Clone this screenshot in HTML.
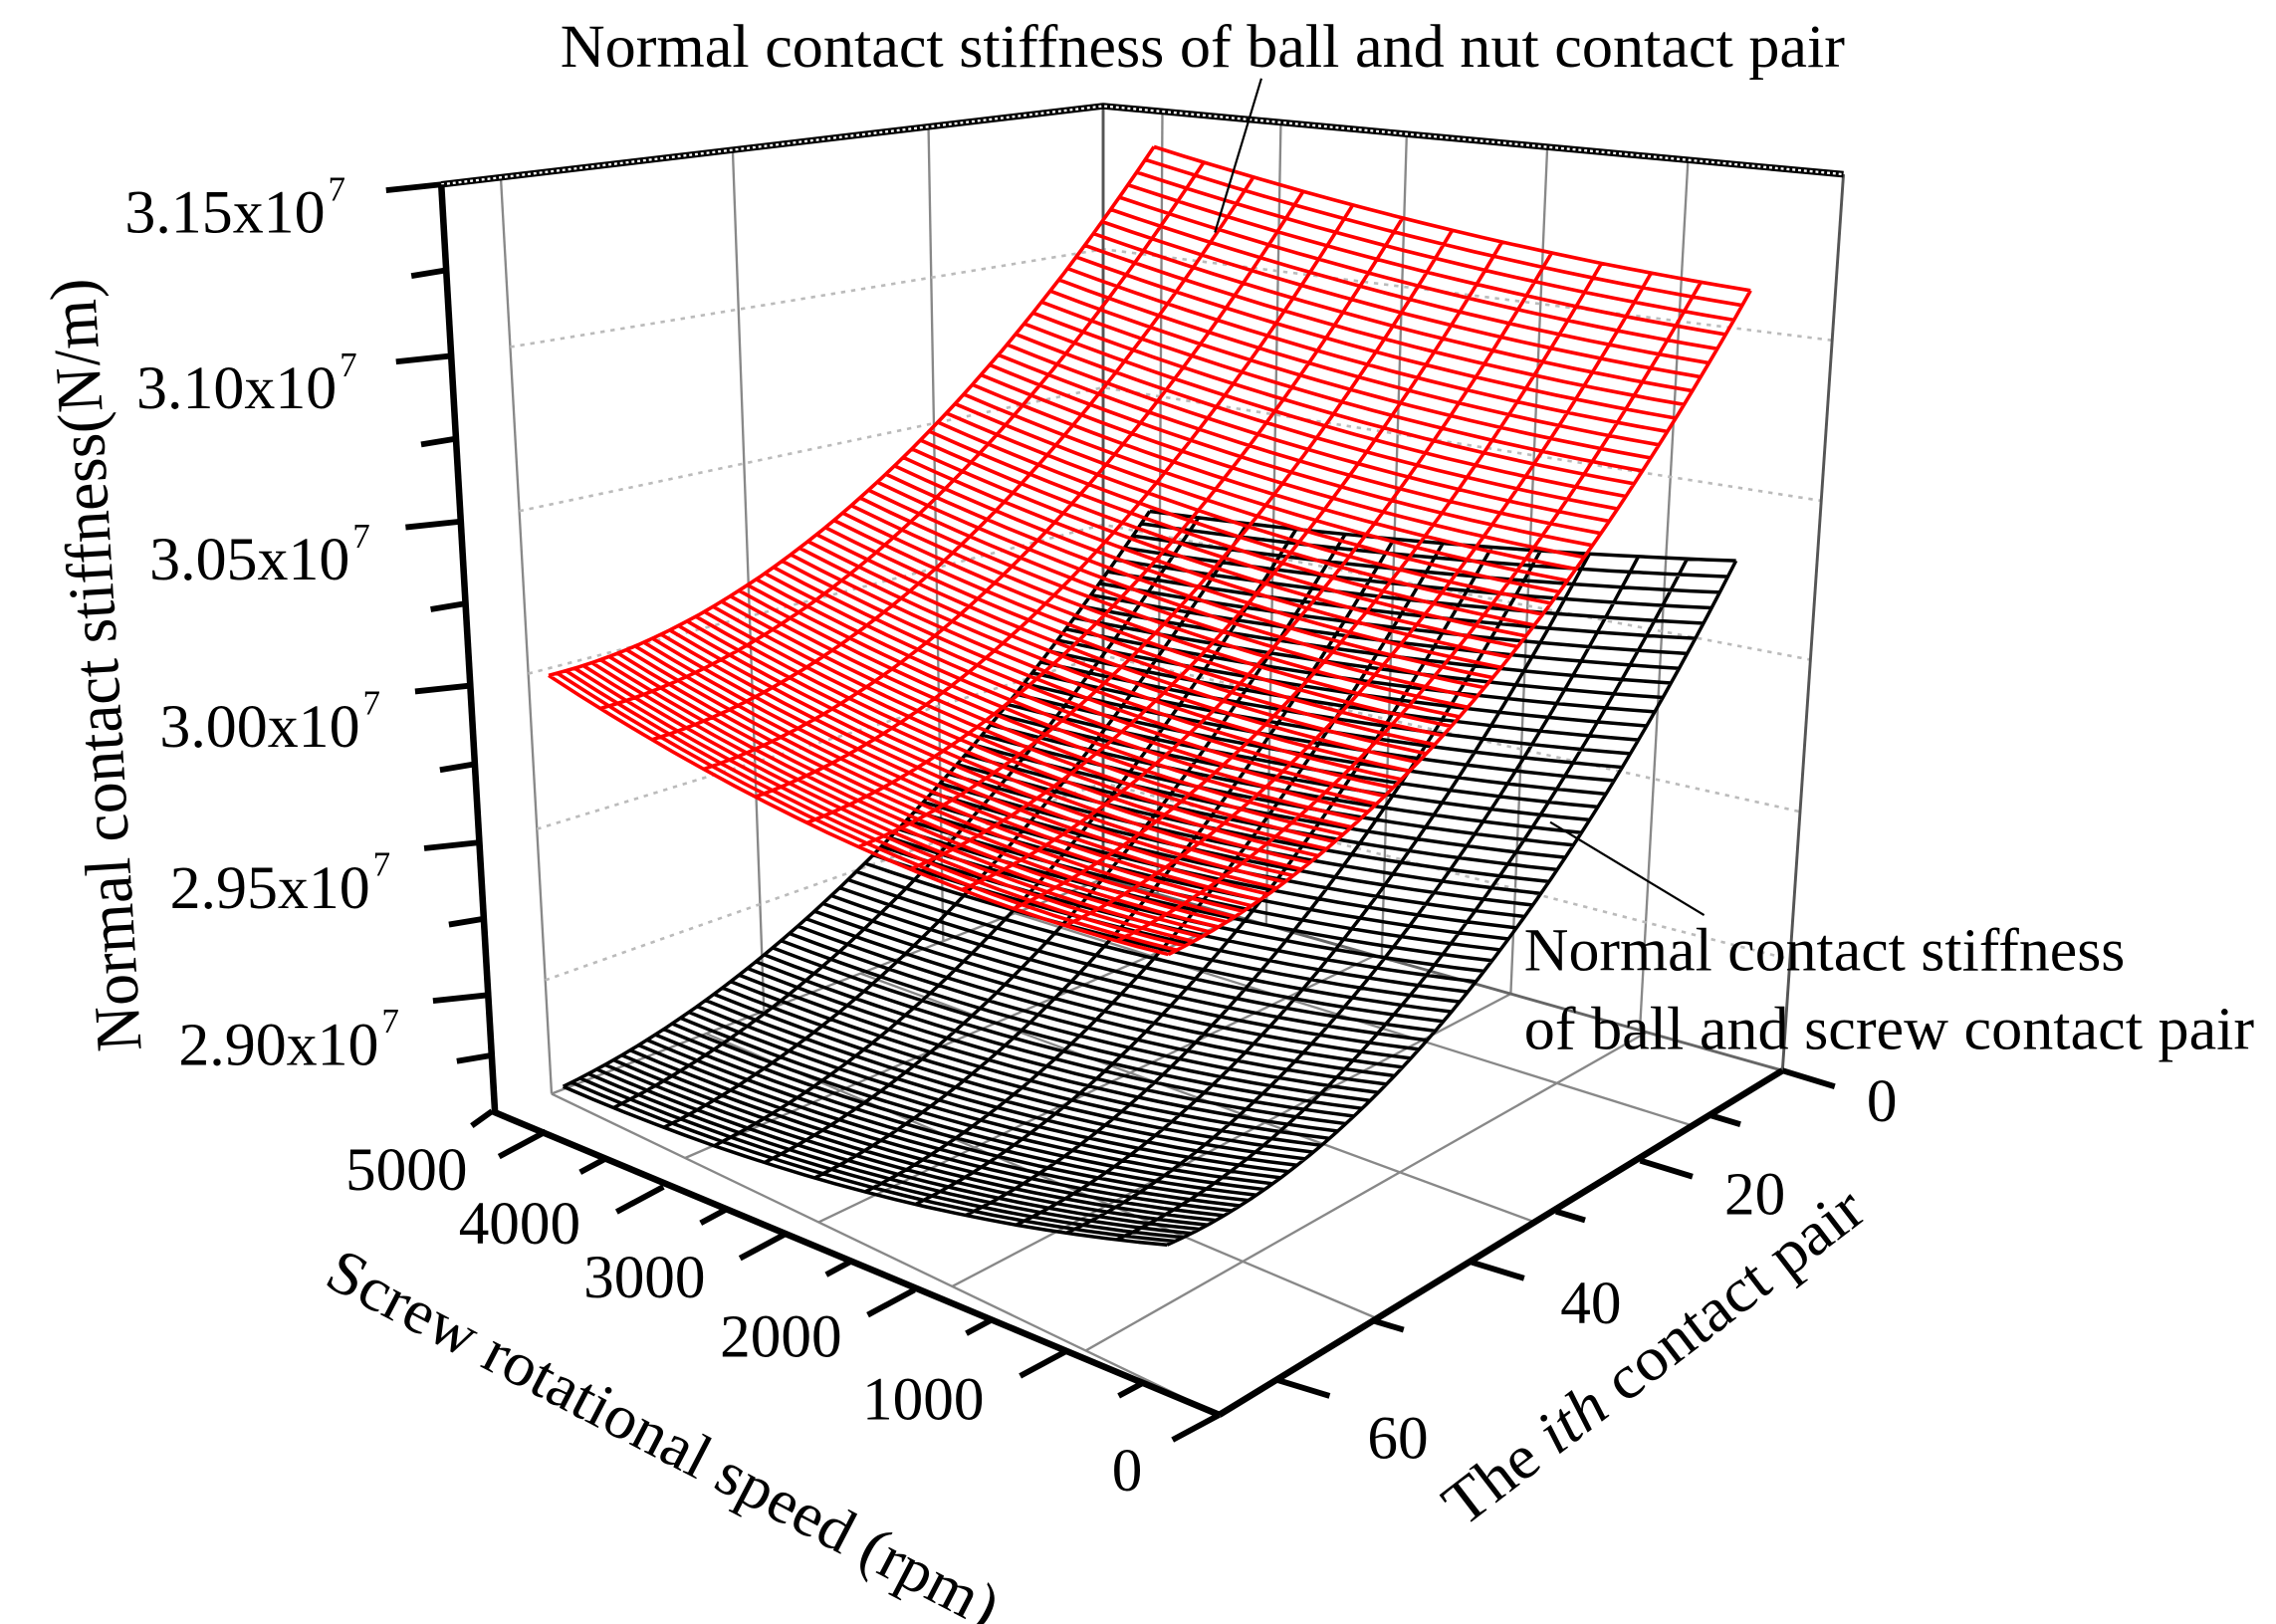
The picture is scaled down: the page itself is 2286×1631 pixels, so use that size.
<!DOCTYPE html>
<html><head><meta charset="utf-8">
<style>
html,body{margin:0;padding:0;background:#fff;}
svg{display:block;}
text{font-family:"Liberation Serif",serif;fill:#000;}
</style></head>
<body>
<svg id="s" width="2286" height="1631" viewBox="0 0 1568 1118" preserveAspectRatio="none" xmlns="http://www.w3.org/2000/svg">
<g id="walls"></g>
<g id="surf"></g>
<g id="axes"></g>
<text x="386" y="46" font-size="42" textLength="885" lengthAdjust="spacingAndGlyphs">Normal contact stiffness of ball and nut contact pair</text>
<text x="1050" y="668" font-size="42" textLength="414" lengthAdjust="spacingAndGlyphs">Normal contact stiffness</text>
<text x="1050" y="722" font-size="42" textLength="503" lengthAdjust="spacingAndGlyphs">of ball and screw contact pair</text>
<line x1="869" y1="54" x2="837" y2="160" stroke="#000" stroke-width="1.5"/>
<line x1="1068" y1="566" x2="1174" y2="630" stroke="#000" stroke-width="1.5"/>
<g font-size="42">
<text x="86" y="160" textLength="138" lengthAdjust="spacingAndGlyphs">3.15x10</text><text x="226" y="138" font-size="24">7</text>
<text x="94" y="281" textLength="138" lengthAdjust="spacingAndGlyphs">3.10x10</text><text x="234" y="259" font-size="24">7</text>
<text x="103" y="399" textLength="138" lengthAdjust="spacingAndGlyphs">3.05x10</text><text x="243" y="377" font-size="24">7</text>
<text x="110" y="514" textLength="138" lengthAdjust="spacingAndGlyphs">3.00x10</text><text x="250" y="492" font-size="24">7</text>
<text x="117" y="625" textLength="138" lengthAdjust="spacingAndGlyphs">2.95x10</text><text x="257" y="603" font-size="24">7</text>
<text x="123" y="733" textLength="138" lengthAdjust="spacingAndGlyphs">2.90x10</text><text x="263" y="711" font-size="24">7</text>
</g>
<g font-size="42" text-anchor="end">
<text x="322" y="819">5000</text>
<text x="400" y="856">4000</text>
<text x="486" y="893">3000</text>
<text x="580" y="934">2000</text>
<text x="678" y="977">1000</text>
<text x="787" y="1026">0</text>
</g>
<g font-size="42">
<text x="1286" y="772">0</text>
<text x="1188" y="836">20</text>
<text x="1075" y="911">40</text>
<text x="942" y="1004">60</text>
</g>
<text font-size="45" transform="translate(81,457) rotate(-93.5)" text-anchor="middle" textLength="533" lengthAdjust="spacingAndGlyphs">Normal contact stiffness(N/m)</text>
<text font-size="43" transform="translate(222,884) rotate(27.5)" textLength="515" lengthAdjust="spacingAndGlyphs">Screw rotational speed (rpm)</text>
<text font-size="43" transform="translate(1008,1052) rotate(-37.5)" textLength="352" lengthAdjust="spacingAndGlyphs">The <tspan font-style="italic">ith</tspan> contact pair</text>
</svg>
<script>
(function(){
var NS="http://www.w3.org/2000/svg";
function el(p,t,a){var e=document.createElementNS(NS,t);for(var k in a)e.setAttribute(k,a[k]);p.appendChild(e);return e;}
var W=document.getElementById('walls'),S=document.getElementById('surf'),AX=document.getElementById('axes');
function L(a,b,t){return [a[0]+(b[0]-a[0])*t,a[1]+(b[1]-a[1])*t];}
var LT=[345,122],LK=[760,73],LB=[380,753],KB=[760,605];
var RT=[1270,120],RB=[1228,737];
var zt=[127,245,359,472,580,685];
[0,0.385,0.71].forEach(function(t){var a=L(LT,LK,t),b=L(LB,KB,t);el(W,'line',{x1:a[0],y1:a[1],x2:b[0],y2:b[1],stroke:'#888','stroke-width':1.6});});
[0.08,0.24,0.41,0.60,0.79].forEach(function(t){var a=L(LK,RT,t),b=L(KB,RB,t);el(W,'line',{x1:a[0],y1:a[1],x2:b[0],y2:b[1],stroke:'#888','stroke-width':1.6});});
var axTop=127,axBot=764;
zt.slice(1).forEach(function(y){
  var f=(y-axTop)/(axBot-axTop);
  var a=L(LT,LB,f),k=L(LK,KB,f),r=L(RT,RB,f);
  el(W,'polyline',{points:a.join(',')+' '+k.join(',')+' '+r.join(','),fill:'none',stroke:'#bbb','stroke-width':1.8,'stroke-dasharray':'3,4'});
});
el(W,'line',{x1:760,y1:73,x2:760,y2:605,stroke:'#555','stroke-width':2});
el(W,'line',{x1:1270,y1:120,x2:1228,y2:737,stroke:'#555','stroke-width':2});
el(W,'polyline',{points:'304,127 760,73 1270,120',fill:'none',stroke:'#000','stroke-width':4.5});
el(W,'polyline',{points:'304,127 760,73 1270,120',fill:'none',stroke:'#fff','stroke-width':1.6,'stroke-dasharray':'2,2'});
var FL=[380,753],FK=[760,605],FR=[1228,737],FF=[840,974];
function F(u,v){var a=L(FL,FF,u),b=L(FK,FR,u);return L(a,b,v);}
[0.2,0.4,0.6,0.8,1].forEach(function(u){var a=F(u,0),b=F(u,1);el(W,'line',{x1:a[0],y1:a[1],x2:b[0],y2:b[1],stroke:'#888','stroke-width':1.6});});
[0,0.28,0.56,0.84].forEach(function(v){var a=F(0,v),b=F(1,v);el(W,'line',{x1:a[0],y1:a[1],x2:b[0],y2:b[1],stroke:'#888','stroke-width':1.6});});
el(W,'line',{x1:FL[0],y1:FL[1],x2:FK[0],y2:FK[1],stroke:'#888','stroke-width':1.6});
el(W,'line',{x1:FK[0],y1:FK[1],x2:FR[0],y2:FR[1],stroke:'#666','stroke-width':2});

function surf(A,B,C,D,sad,sbc,sa,sd,nu,nv,col,w){
  function P(u,v){
    var x=(1-u)*(1-v)*A[0]+u*(1-v)*D[0]+u*v*C[0]+(1-u)*v*B[0];
    var y=(1-u)*(1-v)*A[1]+u*(1-v)*D[1]+u*v*C[1]+(1-u)*v*B[1];
    var su=sad+(sbc-sad)*v, sv=sa+(sd-sa)*u;
    y+=su*4*u*(1-u)+sv*4*v*(1-v);
    return x.toFixed(1)+','+y.toFixed(1);
  }
  var d='';
  for(var j=0;j<=nv;j++){var v=j/nv;d+='M'+P(0,v);for(var i=1;i<=20;i++)d+='L'+P(i/20,v);}
  for(var i=0;i<=nu;i++){var u=i/nu;d+='M'+P(u,0);for(var j=1;j<=40;j++)d+='L'+P(u,j/40);}
  el(S,'path',{d:d,fill:'none',stroke:col,'stroke-width':w,'stroke-linejoin':'round'});
}
surf([388,748],[792,352],[1196,386],[804,857],18,5,50,75,12,70,'#000',2.4);
surf([378,465],[795,101],[1206,200],[805,657],22,8,65,65,12,70,'#ff0000',2.5);

el(AX,'line',{x1:304,y1:127,x2:341,y2:766,stroke:'#000','stroke-width':4.5});
var all=[];for(var i=0;i<zt.length;i++){all.push([zt[i],1]);if(i<zt.length-1)all.push([(zt[i]+zt[i+1])/2,0]);}
all.push([(685+764)/2+2,0]);
all.forEach(function(t){var y=t[0];var x=304+(y-127)/(766-127)*37;var len=t[1]?38:24;
  el(AX,'line',{x1:x,y1:y,x2:x-len,y2:y+4,stroke:'#000','stroke-width':4});});
el(AX,'line',{x1:339,y1:765,x2:840,y2:974,stroke:'#000','stroke-width':4.5});
var sp=[[376,779],[457,817],[542,849],[630,888],[735,930],[840,974]];
var dx=-28,dy=15;
sp.forEach(function(p,i){el(AX,'line',{x1:p[0],y1:p[1],x2:p[0]+dx*1.15,y2:p[1]+dy*1.15,stroke:'#000','stroke-width':4});
 if(i<sp.length-1){var m=[(p[0]+sp[i+1][0])/2,(p[1]+sp[i+1][1])/2];el(AX,'line',{x1:m[0],y1:m[1],x2:m[0]+dx*0.6,y2:m[1]+dy*0.6,stroke:'#000','stroke-width':4});}});
el(AX,'line',{x1:339,y1:765,x2:325,y2:775,stroke:'#000','stroke-width':4});
el(AX,'line',{x1:840,y1:974,x2:1228,y2:737,stroke:'#000','stroke-width':4.5});
var ip=[[1228,737],[1130,799],[1014,869],[880,950]];
ip.forEach(function(p,i){el(AX,'line',{x1:p[0],y1:p[1],x2:p[0]+36,y2:p[1]+11,stroke:'#000','stroke-width':4});
 var q=(i<ip.length-1)?ip[i+1]:null;var m=q?[(p[0]+q[0])/2,(p[1]+q[1])/2]:[p[0]-72,p[1]+44];
 if(m[0]>835)el(AX,'line',{x1:m[0],y1:m[1],x2:m[0]+20,y2:m[1]+6,stroke:'#000','stroke-width':4});});
})();
</script>
</body></html>
